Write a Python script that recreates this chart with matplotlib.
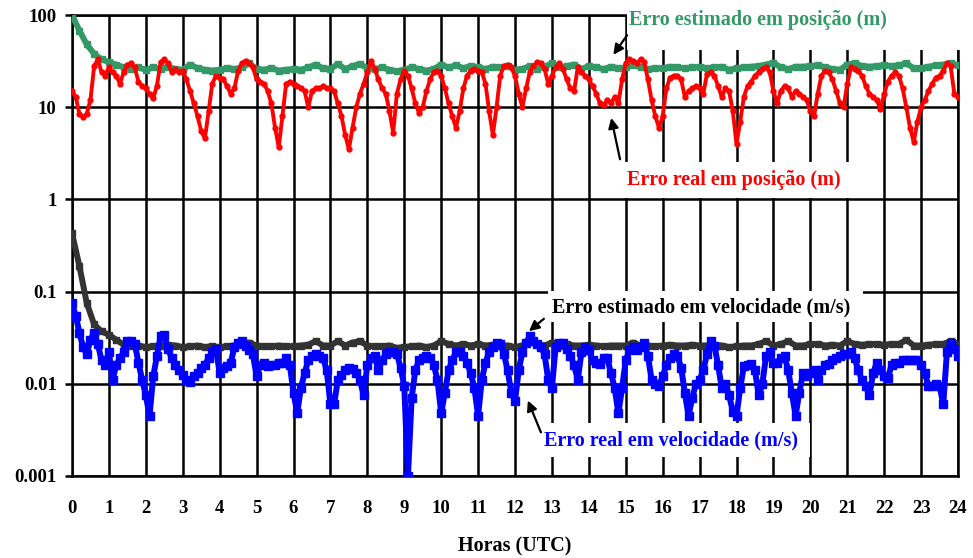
import numpy as np
import matplotlib
matplotlib.use("Agg")
import matplotlib.pyplot as plt
from matplotlib.patches import Rectangle

plt.rcParams['font.family'] = ['Liberation Serif', 'DejaVu Serif']
plt.rcParams['font.weight'] = 'bold'

# real errors, one sample every 0.1 h
horas_real = np.round(np.arange(0, 24.01, 0.1), 1)
pos_real = [
    15, 13, 8.5, 7.8, 8.5, 12, 28, 33, 24, 22,
    27, 24, 22, 18, 24, 29, 30, 27, 19, 17,
    16, 14, 12.5, 17, 31, 33, 30, 24, 26, 24,
    25, 20, 15, 11, 8, 5.5, 4.6, 9, 18, 22,
    21, 20, 17, 14, 16, 25, 30, 32, 30, 27,
    20, 19, 18, 15, 11, 6, 3.7, 8, 18, 19,
    18, 17, 16, 15, 10, 15, 16, 16, 17, 16,
    16, 15, 11, 8, 5, 3.5, 6, 10, 14, 18,
    24, 32, 26, 20, 16, 14, 9, 5.3, 14, 20,
    25, 22, 16, 11, 8.7, 10, 15, 20, 24, 25,
    22, 16, 11, 8, 6, 9, 16, 22, 25, 26,
    25, 24, 18, 9, 5, 10, 22, 28, 29, 27,
    22, 14, 10, 16, 24, 28, 31, 30, 26, 18,
    22, 27, 30, 26, 20, 16, 15, 27, 24, 22,
    20, 17, 14, 11, 10.5, 12, 11, 13, 11, 20,
    30, 33, 32, 30, 33, 31, 20, 12, 8, 6,
    8, 16, 21, 22, 22, 20, 13, 15, 16, 17,
    16, 14, 23, 24, 22, 17, 13, 16, 15, 9,
    4, 7, 13, 17, 19, 22, 24, 26, 27, 24,
    15, 11, 15, 17, 16, 13, 15, 14, 13, 12,
    9, 8, 14, 22, 25, 24, 20, 15, 11, 10,
    18, 27, 26, 25, 22, 17, 14, 13, 12, 9.5,
    14, 19, 22, 24, 22, 16, 10, 6, 4.2, 7,
    10, 12, 15, 18, 21, 22, 25, 30, 28, 14,
    13,
]
vel_real = [
    0.075, 0.055, 0.036, 0.025, 0.021, 0.03, 0.036, 0.027, 0.018, 0.016,
    0.022, 0.011, 0.016, 0.019, 0.022, 0.029, 0.029, 0.027, 0.017, 0.011,
    0.0075, 0.0045, 0.012, 0.02, 0.033, 0.034, 0.024, 0.019, 0.016, 0.014,
    0.0125, 0.011, 0.0105, 0.012, 0.013, 0.015, 0.016, 0.019, 0.022, 0.024,
    0.013, 0.015, 0.0155, 0.017, 0.025, 0.028, 0.029, 0.026, 0.023, 0.021,
    0.012, 0.016, 0.017, 0.0155, 0.016, 0.016, 0.017, 0.017, 0.019, 0.016,
    0.008, 0.0048, 0.009, 0.013, 0.018, 0.02, 0.021, 0.02, 0.019, 0.014,
    0.006, 0.006, 0.011, 0.0125, 0.014, 0.015, 0.0145, 0.013, 0.011, 0.0075,
    0.016, 0.019, 0.02, 0.014, 0.018, 0.021, 0.022, 0.022, 0.021, 0.015,
    0.0095, 0.001, 0.007, 0.014, 0.018, 0.019, 0.02, 0.019, 0.016, 0.011,
    0.0048, 0.008, 0.014, 0.018, 0.022, 0.022, 0.02, 0.017, 0.013, 0.009,
    0.0045, 0.011, 0.017, 0.022, 0.025, 0.028, 0.027, 0.021, 0.014, 0.008,
    0.0065, 0.014, 0.022, 0.028, 0.033, 0.029, 0.027, 0.025, 0.021, 0.011,
    0.009, 0.025, 0.028, 0.028, 0.024, 0.02, 0.016, 0.011, 0.022, 0.025,
    0.023, 0.018, 0.017, 0.0165, 0.019, 0.019, 0.013, 0.009, 0.0048, 0.009,
    0.018, 0.023, 0.025, 0.023, 0.025, 0.028, 0.02, 0.011, 0.01, 0.0095,
    0.012, 0.016, 0.019, 0.021, 0.02, 0.015, 0.008, 0.0045, 0.007, 0.01,
    0.011, 0.014, 0.021, 0.029, 0.026, 0.016, 0.009, 0.01, 0.0075, 0.005,
    0.0045, 0.009, 0.0155, 0.016, 0.0165, 0.014, 0.0075, 0.01, 0.02, 0.022,
    0.017, 0.017, 0.019, 0.02, 0.014, 0.008, 0.0045, 0.008, 0.013, 0.012,
    0.013, 0.014, 0.011, 0.014, 0.016, 0.0165, 0.018, 0.019, 0.02, 0.021,
    0.021, 0.022, 0.019, 0.014, 0.011, 0.0095, 0.0075, 0.013, 0.017, 0.014,
    0.012, 0.0115, 0.016, 0.017, 0.017, 0.018, 0.018, 0.018, 0.018, 0.018,
    0.016, 0.013, 0.0095, 0.0095, 0.01, 0.0095, 0.006, 0.022, 0.028, 0.024,
    0.02,
]

# estimated errors, one sample every 0.2 h
horas_est = np.round(np.arange(0, 24.01, 0.2), 1)
pos_est = [
    100, 68, 48, 38, 33, 31, 29, 27, 26, 27,
    25.5, 27, 26, 27.5, 26, 25.5, 29, 26.5, 25.5, 25,
    25.5, 26.5, 26, 27, 30, 26, 25.5, 26.5, 25, 25.5,
    26, 25.5, 27, 29, 26.5, 26, 29.5, 26, 28, 29.5,
    26.5, 26, 27, 25.5, 24.5, 25.5, 27, 26, 25, 26,
    29, 27, 28.5, 26.5, 28, 27, 26, 27.5, 27, 28,
    25.5, 26, 28, 26, 27.5, 30, 27, 28, 29, 26,
    28, 27, 26, 27.5, 26.5, 27, 29, 27, 26, 26.5,
    26.5, 27.5, 27, 26.5, 27, 27.5, 26.5, 27, 27.5, 25.5,
    26.5, 27, 27.5, 28, 29, 30.5, 27, 26, 27.5, 27.5,
    28, 28.5, 27, 26, 25.5, 29, 30, 28, 27.5, 28,
    28.5, 28, 28.5, 30, 26.5, 26.5, 27.5, 28.5, 29, 30,
    28.5,
]
vel_est = [
    0.43, 0.19, 0.075, 0.044, 0.037, 0.034, 0.03, 0.0265, 0.0255, 0.026,
    0.025, 0.0255, 0.026, 0.0265, 0.026, 0.025, 0.0255, 0.026, 0.025, 0.0255,
    0.025, 0.0255, 0.026, 0.0265, 0.028, 0.026, 0.0255, 0.0255, 0.026, 0.0255,
    0.0255, 0.026, 0.0265, 0.029, 0.026, 0.026, 0.029, 0.026, 0.028, 0.029,
    0.026, 0.0255, 0.0255, 0.026, 0.0245, 0.025, 0.0255, 0.026, 0.025, 0.026,
    0.029, 0.027, 0.026, 0.027, 0.026, 0.027, 0.026, 0.0265, 0.026, 0.026,
    0.025, 0.026, 0.029, 0.027, 0.026, 0.028, 0.026, 0.027, 0.026, 0.026,
    0.0265, 0.026, 0.0255, 0.026, 0.026, 0.026, 0.028, 0.026, 0.026, 0.0255,
    0.026, 0.0265, 0.026, 0.026, 0.0265, 0.026, 0.026, 0.0265, 0.026, 0.025,
    0.0255, 0.026, 0.026, 0.027, 0.029, 0.026, 0.027, 0.029, 0.026, 0.026,
    0.027, 0.027, 0.026, 0.0265, 0.026, 0.029, 0.027, 0.0265, 0.027, 0.027,
    0.0265, 0.027, 0.027, 0.030, 0.026, 0.026, 0.0265, 0.027, 0.027, 0.029,
    0.027,
]

yticks = [0.001, 0.01, 0.1, 1, 10, 100]
ytick_labels = ['0.001', '0.01', '0.1', '1', '10', '100']
xticks = list(range(0, 25))

verde = '#339966'
cinza = '#333333'

fig = plt.figure(figsize=(9.73, 5.58), dpi=100)
ax = fig.add_axes([0.074, 0.147, 0.9106, 0.826])

ax.plot(horas_est, pos_est, '-s', color=verde, lw=4.3, ms=5, mec=verde, zorder=3)
ax.plot(horas_real, pos_real, '-o', color='red', lw=2.8, ms=3.5, mec='red', zorder=3)
ax.plot(horas_est, vel_est, '-s', color=cinza, lw=4.3, ms=5, mec=cinza, zorder=3)
ax.plot(horas_real, vel_real, '-s', color='blue', lw=4.3, ms=5.5, mec='blue', zorder=3)

ax.set_yscale('log')
ax.set_ylim(0.001, 100)
ax.set_xlim(0, 24)
ax.set_yticks(yticks)
ax.set_yticklabels(ytick_labels)
ax.yaxis.set_minor_locator(matplotlib.ticker.NullLocator())
ax.set_xticks(xticks)
ax.grid(True, color='black', lw=1.8)
ax.set_axisbelow(True)
for s in ax.spines.values():
    s.set_linewidth(1.8)
ax.tick_params(axis='y', length=5, width=1.8, direction='out', labelsize=13.5, pad=6)
ax.tick_params(axis='x', length=0, labelsize=13.5, pad=17)

fig.text(0.529, 0.02, 'Horas (UTC)', ha='center', va='center', fontsize=14.5)

# white boxes behind the labels
caixas = [
    (0.626, 0.924, 0.40, 0.12),
    (0.596, 0.603, 0.316, 0.078),
    (0.537, 0.334, 0.356, 0.067),
    (0.532, 0.041, 0.301, 0.074),
]
for x0, y0, w, h in caixas:
    ax.add_patch(Rectangle((x0, y0), w, h, transform=ax.transAxes, facecolor='white',
                           edgecolor='none', zorder=4, clip_on=False))

seta = dict(arrowstyle='-|>,head_length=0.6,head_width=0.3', color='black', lw=1.6)

ax.text(15.08, 88, 'Erro estimado em posição (m)', color=verde, fontsize=14.5,
        va='center', ha='left', zorder=5)
ax.annotate('', xy=(14.62, 35), xytext=(15.08, 64), arrowprops=seta, zorder=5)

ax.text(15.03, 1.62, 'Erro real em posição (m)', color='red', fontsize=14.5,
        va='center', ha='left', zorder=5)
ax.annotate('', xy=(14.59, 8.2), xytext=(14.86, 2.55), arrowprops=seta, zorder=5)

ax.text(13.0, 0.068, 'Erro estimado em velocidade (m/s)', color='black', fontsize=14.5,
        va='center', ha='left', zorder=5)
ax.annotate('', xy=(12.32, 0.0356), xytext=(12.84, 0.053), arrowprops=seta, zorder=5)

ax.text(12.78, 0.00245, 'Erro real em velocidade (m/s)', color='blue', fontsize=14.5,
        va='center', ha='left', zorder=5)
ax.annotate('', xy=(12.32, 0.00702), xytext=(12.73, 0.00279), arrowprops=seta, zorder=5)

fig.savefig('out.png', dpi=100)
